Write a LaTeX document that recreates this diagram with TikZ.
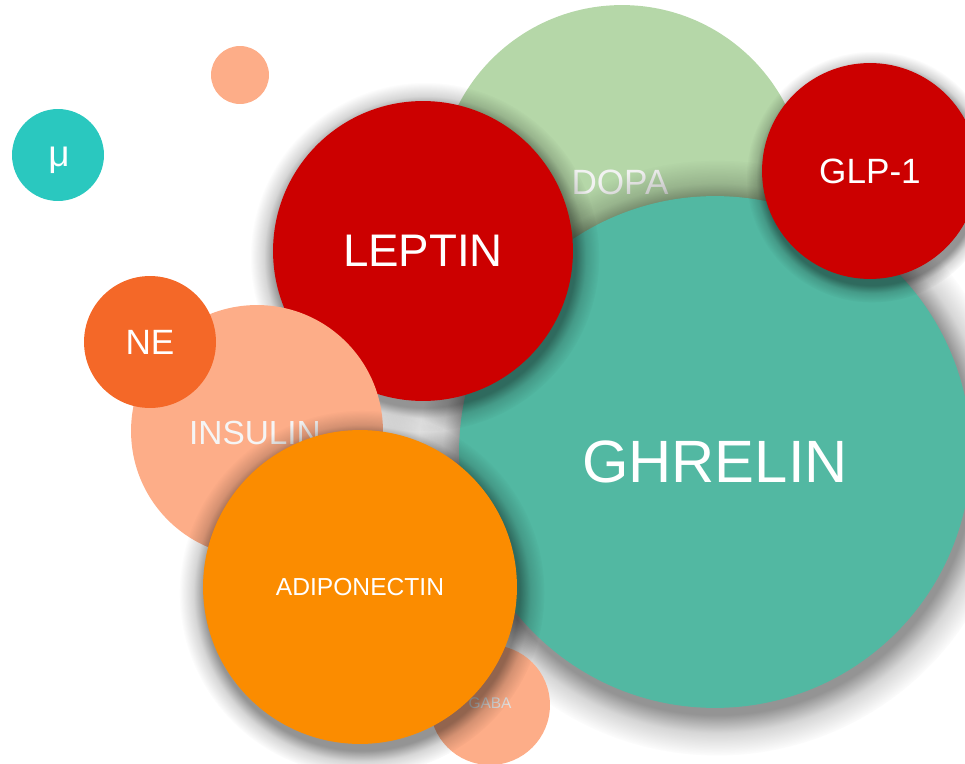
\documentclass[tikz,border=0pt]{standalone}
\usepackage{fontspec}
\setmainfont{Liberation Sans}
\usepackage{xcolor}
\definecolor{Boston Red}{HTML}{CC0000}
\definecolor{Keppel}{HTML}{52B8A2}
\definecolor{Turquoise}{HTML}{2AC8BF}
\definecolor{Moss Green}{HTML}{B5D7A8}
\definecolor{Peach}{HTML}{FDAD88}
\definecolor{Pumpkin}{HTML}{F46828}
\definecolor{Tangerine}{HTML}{FB8C00}
\colorlet{cRed}{Boston Red}
\colorlet{cTeal}{Keppel}
\colorlet{cCyan}{Turquoise}
\colorlet{cGreen}{Moss Green}
\colorlet{cPeach}{Peach}
\colorlet{cOrange}{Pumpkin}
\colorlet{cAmber}{Tangerine}
\usepackage{tikz}
\usetikzlibrary{fadings}
\pgfdeclareradialshading{halo-shd}{\pgfpointorigin}{color(0bp)=(white); color(21.5bp)=(white); color(23bp)=(white!38!black); color(25bp)=(black); color(50bp)=(black)}
\pgfdeclarefading{halo}{\pgfuseshading{halo-shd}}
\tikzset{
	bubble/.style={
		circle,
		inner sep=0pt,
		text=white,
		minimum size=#1*0.04cm
	},
	halo fill/.style={
		fill=black,
		fill opacity=.42,
		path fading=halo,
		fit fading=true
	}
}
\newcommand{\fs}[1]{\fontsize{#1}{#1}\selectfont}
\newcommand{\halo}[3]{\fill[halo fill] (#1+2,#2+6) circle ({#3/0.86});}

\begin{document}
\begin{tikzpicture}[x=0.02cm, y=-0.02cm]
		\useasboundingbox (0,0) rectangle (965,764);
		\clip (0,0) rectangle (965,764);
		% ---
% back row
% ---
\node[bubble=184, fill=cGreen] at (622,189) (dopa) {};
\node[text=white!95!black, font=\fs{20}] at (620,182) (dopa-lbl) {DOPA};
\halo{715}{452}{256}
\node[bubble=256, fill=cTeal] at (715,452) (ghrelin) {};
\node[text=white, font=\fs{34}] at (715,462) (ghrelin-lbl) {GHRELIN};
\halo{870}{171}{108}
\node[bubble=108, fill=cRed, font=\fs{20}] at (870,171) (glp1) {GLP-1};
\halo{423}{251}{150}
\node[bubble=150, fill=cRed, font=\fs{26}] at (423,251) (leptin) {LEPTIN};

% ---
% left cluster
% ---
\node[bubble=126, fill=cPeach] at (257,431) (insulin) {};
\node[text=white!96!black, font=\fs{19}] at (255,433) (insulin-lbl) {INSULIN};
\node[bubble=66, fill=cOrange, font=\fs{20}] at (150,342) (ne) {NE};
\node[bubble=60, fill=cPeach] at (490,705) (gaba) {};
\node[text=white!88!black, font=\fs{8.8}] at (490,703) (gaba-lbl) {GABA};
\halo{360}{587}{157}
\node[bubble=157, fill=cAmber, font=\fs{14}] at (360,587) (adiponectin) {ADIPONECTIN};

% ---
% loose ones
% ---
\node[bubble=29, fill=cPeach] at (240,75) (dot) {};
\node[bubble=46, fill=cCyan] at (58,155) (mu) {};
\node[text=white, font=\fs{21}] at (59,160) (mu-lbl) {μ};
	\end{tikzpicture}
\end{document}
